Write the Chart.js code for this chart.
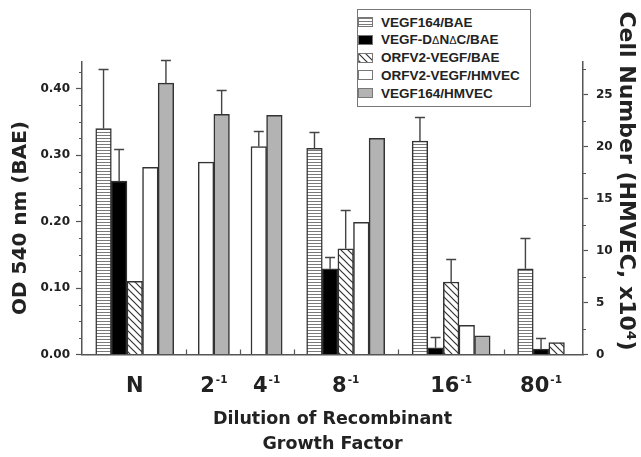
<!DOCTYPE html>
<html>
<head>
<meta charset="utf-8">
<script src="https://cdn.jsdelivr.net/npm/chart.js@4.4.1/dist/chart.umd.min.js"></script>
<style>
  html, body { margin: 0; padding: 0; background: #fff; }
  #wrap { position: relative; width: 641px; height: 457px; }
  #legend {
    position: absolute; left: 357px; top: 9px; width: 174px; height: 98px;
    box-sizing: border-box; border: 1.5px solid #777; background: #fff;
    font: bold 13.5px "Liberation Sans", Arial, sans-serif; color: #222;
  }
  .row { position: absolute; left: 0; height: 14px; display: flex; align-items: center; white-space: nowrap; }
  .sw { width: 15px; height: 10px; box-sizing: border-box; border: 1px solid #777; margin-right: 8px; }
  .d { font-weight: normal; font-size: 11px; }
</style>
</head>
<body>
<div id="wrap">
  <canvas id="chart" width="641" height="457"></canvas>
  <div id="legend"></div>
</div>
<script>
// x slots, blanks are only spacers so the groups sit where they do in the original
const dilutionLabels = ['', '', 'N', '', '', '2⁻¹', '', '4⁻¹', '', '', '8⁻¹', '', '', '', '16⁻¹', '', '', '', '80⁻¹', ''];

const seriesNames = ['VEGF164/BAE', 'VEGF-DΔNΔC/BAE', 'ORFV2-VEGF/BAE', 'ORFV2-VEGF/HMVEC', 'VEGF164/HMVEC'];

// OD 540 nm (BAE), groups: N, 2-1, 4-1, 8-1, 16-1, 80-1
const vegf164Bae      = [0.340, null, null, 0.310, 0.321, 0.129];
const vegf164BaeErr   = [0.090, null, null, 0.024, 0.036, 0.047];
const vegfDncBae      = [0.261, null, null, 0.129, 0.010, 0.008];
const vegfDncBaeErr   = [0.048, null, null, 0.018, 0.016, 0.017];
const orfv2Bae        = [0.110, null, null, 0.159, 0.109, 0.018];
const orfv2BaeErr     = [null,  null, null, 0.058, 0.035, null];

// cell number (HMVEC, x10^4)
const orfv2Hmvec      = [18.0, 18.5, 20.0, 12.7, 2.8, 0];
const orfv2HmvecErr   = [null, null, 1.5,  null, null, null];
const vegf164Hmvec    = [26.1, 23.1, 23.0, 20.8, 1.8, 0];
const vegf164HmvecErr = [2.2,  2.3,  null, null, null, null];

const odTicks = [0, 0.1, 0.2, 0.3, 0.4];
const cellTicks = [0, 5, 10, 15, 20, 25];

const canvas = document.getElementById('chart');
const ctx = canvas.getContext('2d');

// which label slot each group goes in
const groupSlots = [];
dilutionLabels.forEach((l, i) => { if (l) groupSlots.push(i); });

function toSlots(vals) {
    const out = dilutionLabels.map(() => null);
    vals.forEach((v, g) => { out[groupSlots[g]] = v; });
    return out;
}

// fill patterns
function makeTile(w, h, draw) {
    const c = document.createElement('canvas');
    c.width = w; c.height = h;
    const g = c.getContext('2d');
    g.fillStyle = '#fff';
    g.fillRect(0, 0, w, h);
    draw(g);
    return c;
}
const stripeTile = makeTile(4, 3, g => {
    g.fillStyle = '#7a7a7a';
    g.fillRect(0, 0, 4, 1);
});
const hatchTile = makeTile(7, 7, g => {
    g.strokeStyle = '#333';
    g.lineWidth = 1.2;
    g.beginPath();
    g.moveTo(-1, -1); g.lineTo(8, 8);
    g.moveTo(-1, 6); g.lineTo(1, 8);
    g.moveTo(6, -1); g.lineTo(8, 1);
    g.stroke();
});

const fills = [
    ctx.createPattern(stripeTile, 'repeat'),
    '#000',
    ctx.createPattern(hatchTile, 'repeat'),
    '#fff',
    '#b3b3b3'
];
const swatchCss = [
    `url(${stripeTile.toDataURL()})`,
    '#000',
    `url(${hatchTile.toDataURL()})`,
    '#fff',
    '#b3b3b3'
];

const values = [vegf164Bae, vegfDncBae, orfv2Bae, orfv2Hmvec, vegf164Hmvec];
const errors = [vegf164BaeErr, vegfDncBaeErr, orfv2BaeErr, orfv2HmvecErr, vegf164HmvecErr];
const axisOf = ['y', 'y', 'y', 'y2', 'y2'];

const datasets = seriesNames.map((name, i) => ({
    label: name,
    data: toSlots(values[i]),
    errors: toSlots(errors[i]),
    yAxisID: axisOf[i],
    backgroundColor: fills[i],
    borderColor: '#333',
    borderWidth: 1.5
}));

// error bars
const errorBars = {
    id: 'errorBars',
    afterDatasetsDraw(chart) {
        const c = chart.ctx;
        c.save();
        c.strokeStyle = '#444';
        c.lineWidth = 1.4;
        chart.data.datasets.forEach((ds, di) => {
            const meta = chart.getDatasetMeta(di);
            const scale = chart.scales[ds.yAxisID];
            meta.data.forEach((bar, i) => {
                const v = ds.data[i];
                const e = ds.errors[i];
                if (v == null || !e) return;
                const top = Math.round(scale.getPixelForValue(v + e)) + 0.5;
                c.beginPath();
                c.moveTo(bar.x, bar.y);
                c.lineTo(bar.x, top);
                c.moveTo(bar.x - 5, top);
                c.lineTo(bar.x + 5, top);
                c.stroke();
            });
        });
        c.restore();
    }
};

// superscript digits back to plain ones for the small raised part
const supMap = { '⁻': '-', '⁰': '0', '¹': '1', '²': '2', '³': '3', '⁴': '4', '⁵': '5', '⁶': '6', '⁷': '7', '⁸': '8', '⁹': '9' };

// extent of the bars in one slot; visibleOnly leaves out zero-height bars
function clusterOf(chart, slot, visibleOnly) {
    let lo = Infinity, hi = -Infinity;
    chart.data.datasets.forEach((ds, di) => {
        const v = ds.data[slot];
        if (v == null || (visibleOnly && !v)) return;
        const bar = chart.getDatasetMeta(di).data[slot];
        lo = Math.min(lo, bar.x - bar.width / 2);
        hi = Math.max(hi, bar.x + bar.width / 2);
    });
    return [lo, hi];
}

// x labels with a raised exponent, minor ticks, group dividers, y axis titles
const axisExtras = {
    id: 'axisExtras',
    afterDraw(chart) {
        const c = chart.ctx;
        const area = chart.chartArea;
        const y = chart.scales.y;
        const y2 = chart.scales.y2;
        c.save();
        c.strokeStyle = '#555';
        c.lineWidth = 1.2;
        c.beginPath();
        for (let k = 1; k * 0.025 < y.max; k++) {
            if (k % 4 === 0) continue;
            const py = Math.round(y.getPixelForValue(k * 0.025)) + 0.5;
            c.moveTo(area.left - 3, py);
            c.lineTo(area.left, py);
        }
        for (let k = 1; k * 2.5 < y2.max; k++) {
            if (k % 2 === 0) continue;
            const py = Math.round(y2.getPixelForValue(k * 2.5)) + 0.5;
            c.moveTo(area.right, py);
            c.lineTo(area.right + 3, py);
        }
        // dividers halfway between neighbouring bar clusters
        const clusters = groupSlots.map(slot => clusterOf(chart, slot, false));
        for (let g = 0; g < clusters.length - 1; g++) {
            const px = Math.round((clusters[g][1] + clusters[g + 1][0]) / 2) + 0.5;
            c.moveTo(px, area.bottom);
            c.lineTo(px, area.bottom - 5);
        }
        c.stroke();

        c.fillStyle = '#222';
        c.textBaseline = 'alphabetic';
        c.textAlign = 'left';
        const bigFont = 'bold 21px "DejaVu Sans"';
        const smallFont = 'bold 10.5px "DejaVu Sans"';
        const baseY = area.bottom + 37.5;
        groupSlots.forEach(slot => {
            const label = dilutionLabels[slot];
            let base = '', sup = '';
            for (const ch of label) {
                if (supMap[ch]) sup += supMap[ch]; else base += ch;
            }
            const [lo, hi] = clusterOf(chart, slot, true);
            c.font = bigFont;
            const wb = c.measureText(base).width;
            c.font = smallFont;
            const ws = sup ? c.measureText(sup).width + 1 : 0;
            const left = (lo + hi) / 2 - (wb + ws) / 2;
            c.font = bigFont;
            c.fillText(base, left, baseY);
            if (sup) {
                c.font = smallFont;
                c.fillText(sup, left + wb + 1, baseY - 9);
            }
        });

        c.textAlign = 'center';
        c.textBaseline = 'middle';
        c.font = 'bold 20px "DejaVu Sans"';
        c.translate(21, 218);
        c.rotate(-Math.PI / 2);
        c.fillText('OD 540 nm (BAE)', 0, 0);
        c.setTransform(1, 0, 0, 1, 0, 0);
        c.font = 'bold 22px "DejaVu Sans"';
        c.translate(626, 181);
        c.rotate(Math.PI / 2);
        c.fillText('Cell Number (HMVEC, x10⁴)', 0, 0);
        c.restore();
    }
};

const tickFont = { family: 'DejaVu Sans', weight: 'bold', size: 12 };

new Chart(ctx, {
    type: 'bar',
    data: { labels: dilutionLabels, datasets: datasets },
    options: {
        responsive: false,
        animation: false,
        devicePixelRatio: 1,
        layout: { padding: { top: 62, left: 0, right: 0, bottom: 0 } },
        plugins: { legend: { display: false }, tooltip: { enabled: false } },
        datasets: { bar: { barThickness: 15.6, skipNull: true } },
        scales: {
            x: {
                offset: false,
                grid: { display: false, drawTicks: false },
                border: { display: true, color: '#555', width: 1.5 },
                ticks: { display: false, autoSkip: false, maxRotation: 0, minRotation: 0 },
                title: {
                    display: true,
                    text: ['Dilution of Recombinant', 'Growth Factor'],
                    color: '#222',
                    font: { family: 'DejaVu Sans', weight: 'bold', size: 17.5, lineHeight: 25 / 17.5 },
                    padding: 0
                },
                afterFit: s => { s.height = 102.5; }
            },
            y: {
                position: 'left', min: 0, max: 0.44,
                afterBuildTicks: s => { s.ticks = odTicks.map(v => ({ value: v })); },
                ticks: { padding: 6, color: '#222', font: tickFont, callback: v => v.toFixed(2) },
                grid: { drawOnChartArea: false, tickLength: 6, tickColor: '#555', tickWidth: 1.2 },
                border: { color: '#555', width: 1.5 },
                afterFit: s => { s.width = 82; }
            },
            y2: {
                position: 'right', min: 0, max: 28.13,
                afterBuildTicks: s => { s.ticks = cellTicks.map(v => ({ value: v })); },
                ticks: { padding: 8, color: '#222', font: tickFont },
                grid: { drawOnChartArea: false, tickLength: 5, tickColor: '#555', tickWidth: 1.2 },
                border: { color: '#555', width: 1.5 },
                afterFit: s => { s.width = 58; }
            }
        }
    },
    plugins: [errorBars, axisExtras]
});

// legend box
const legend = document.getElementById('legend');
seriesNames.forEach((name, i) => {
    const row = document.createElement('div');
    row.className = 'row';
    row.style.top = (5 + 17.75 * i) + 'px';
    const sw = document.createElement('span');
    sw.className = 'sw';
    sw.style.background = swatchCss[i];
    const txt = document.createElement('span');
    txt.innerHTML = name.replace(/Δ/g, '<span class="d">Δ</span>');
    row.appendChild(sw);
    row.appendChild(txt);
    legend.appendChild(row);
});
</script>
</body>
</html>
